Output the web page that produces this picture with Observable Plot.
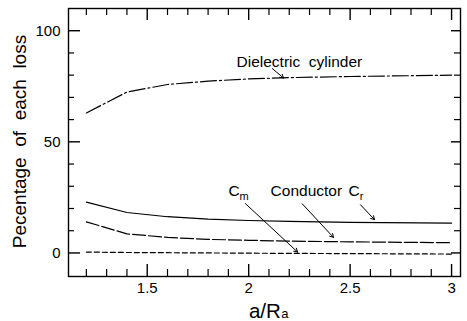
<!DOCTYPE html>
<html>
<head>
<meta charset="utf-8">
<script src="https://cdn.jsdelivr.net/npm/d3@7"></script>
<script src="https://cdn.jsdelivr.net/npm/@observablehq/plot@0.6"></script>
<style>
  html, body { margin: 0; padding: 0; background: #fff; }
  #chart svg { display: block; }
</style>
</head>
<body>
<div id="chart"></div>
<script>
// ---- data ----
const ratio = [1.2, 1.4, 1.6, 1.8, 2.0, 2.2, 2.5, 3.0];            // a/Ra
const dielectricCylinder = [63.0, 72.4, 75.8, 77.3, 78.3, 78.9, 79.4, 80.0];
const conductorCr = [22.9, 18.2, 16.3, 15.2, 14.6, 14.2, 13.8, 13.4];
const conductor = [14.0, 8.6, 7.0, 6.1, 5.7, 5.3, 5.0, 4.6];
const conductorCm = [0.4, 0.2, 0.1, 0.0, -0.1, -0.2, -0.3, -0.5];

const xMajorTicks = [1.5, 2, 2.5, 3];
const xMinorTicks = [1.2, 1.3, 1.4, 1.6, 1.7, 1.8, 1.9, 2.1, 2.2, 2.3, 2.4, 2.6, 2.7, 2.8, 2.9];
const yMajorTicks = [0, 50, 100];
const yMinorTicks = [10, 20, 30, 40, 60, 70, 80, 90];

const yTitle = "Pecentage\u00a0 of\u00a0 each\u00a0 loss";
const xTitle = "a/R";
const xTitleSub = "a";

// annotation labels (data coordinates)
const labelText = ["Dielectric\u00a0 cylinder", "Conductor", "C", "C"];
const labelX = [1.940, 2.108, 2.492, 1.900];
const labelY = [85.7, 27.7, 27.7, 27.7];
const subText = ["r", "m"];
const subX = [2.547, 1.955];
const subY = [25.4, 25.4];

// annotation arrows (data coordinates)
const arrowX1 = [2.116, 1.984, 2.264, 2.551];
const arrowY1 = [83.0, 22.2, 22.1, 21.7];
const arrowX2 = [2.172, 2.241, 2.418, 2.620];
const arrowY2 = [78.7, 0.4, 7.0, 15.0];

// ---- build tables ----
const series = [
  {name: "dielectric", values: dielectricCylinder, dash: "16,3,2,3"},
  {name: "Cr", values: conductorCr, dash: null},
  {name: "conductor", values: conductor, dash: "13,3"},
  {name: "Cm", values: conductorCm, dash: "5,3"}
];
const labels = labelText.map((t, i) => ({t, x: labelX[i], y: labelY[i]}));
const subs = subText.map((t, i) => ({t, x: subX[i], y: subY[i]}));
const arrows = arrowX1.map((_, i) => ({x1: arrowX1[i], y1: arrowY1[i], x2: arrowX2[i], y2: arrowY2[i]}));

const W = 467, H = 321;
const mL = 68, mR = 7, mT = 8, mB = 45;
const pw = W - mL - mR, ph = H - mT - mB;
const font = "'Liberation Sans', Arial, Helvetica, sans-serif";

const marks = [];
for (const s of series) {
  marks.push(Plot.line(ratio.map((x, i) => ({x, y: s.values[i]})), {
    x: "x", y: "y", stroke: "#000", strokeWidth: 1.2,
    strokeDasharray: s.dash || undefined
  }));
}
marks.push(
  // ticks, drawn inward
  Plot.tickX(xMinorTicks, {x: d => d, insetTop: ph - 7, stroke: "#000", strokeWidth: 1.2}),
  Plot.tickX(xMajorTicks, {x: d => d, insetTop: ph - 12, stroke: "#000", strokeWidth: 1.4}),
  Plot.tickX(xMinorTicks, {x: d => d, insetBottom: ph - 7, stroke: "#000", strokeWidth: 1.2}),
  Plot.tickX(xMajorTicks, {x: d => d, insetBottom: ph - 12, stroke: "#000", strokeWidth: 1.4}),
  Plot.tickY(yMinorTicks, {y: d => d, insetRight: pw - 6, stroke: "#000", strokeWidth: 1.2}),
  Plot.tickY(yMajorTicks, {y: d => d, insetRight: pw - 12, stroke: "#000", strokeWidth: 1.4}),
  Plot.tickY(yMinorTicks, {y: d => d, insetLeft: pw - 6, stroke: "#000", strokeWidth: 1.2}),
  Plot.tickY(yMajorTicks, {y: d => d, insetLeft: pw - 9, stroke: "#000", strokeWidth: 1.4}),
  Plot.frame({stroke: "#000", strokeWidth: 1.4}),
  Plot.axisX({ticks: xMajorTicks, tickSize: 0, tickPadding: 6, fontSize: 15, label: null, tickFormat: d => String(d)}),
  Plot.axisY({ticks: yMajorTicks, tickSize: 0, tickPadding: 8, fontSize: 15, label: null, tickFormat: d => String(d)}),
  // annotations
  Plot.arrow(arrows, {x1: "x1", y1: "y1", x2: "x2", y2: "y2", stroke: "#000", strokeWidth: 1, headLength: 6}),
  Plot.text(labels, {x: "x", y: "y", text: "t", textAnchor: "start", fontSize: 15.5, fill: "#000"}),
  Plot.text(subs, {x: "x", y: "y", text: "t", textAnchor: "start", fontSize: 11, fill: "#000"}),
  // axis titles
  Plot.text([yTitle], {text: d => d, frameAnchor: "left", textAnchor: "middle", lineAnchor: "middle", rotate: -90, dx: -49, dy: -1, fontSize: 19, fill: "#000"}),
  Plot.text([xTitle], {text: d => d, x: [2.001], frameAnchor: "bottom", textAnchor: "start", lineAnchor: "middle", dy: 34.5, fontSize: 20.5, fill: "#000"}),
  Plot.text([xTitleSub], {text: d => d, x: [2.160], frameAnchor: "bottom", textAnchor: "start", lineAnchor: "middle", dy: 37.5, fontSize: 13, fill: "#000"})
);

const chart = Plot.plot({
  width: W, height: H,
  marginLeft: mL, marginRight: mR, marginTop: mT, marginBottom: mB,
  x: {domain: [1.112, 3.044]},
  y: {domain: [-10.6, 110]},
  style: {fontFamily: font, color: "#000", background: "#fff", overflow: "visible"},
  marks
});
document.getElementById("chart").appendChild(chart);
</script>
</body>
</html>
